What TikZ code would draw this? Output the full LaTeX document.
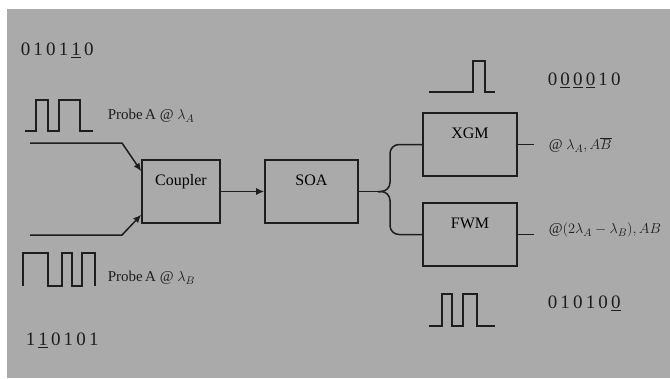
\documentclass[tikz,border=0pt]{standalone}
\usepackage{fontspec}
\setmainfont{Liberation Serif}
\usetikzlibrary{arrows.meta,positioning}
\definecolor{bggray}{RGB}{170,170,170}
\definecolor{inkgray}{RGB}{30,30,30}

\begin{document}
\begin{tikzpicture}[x=1pt,y=-1pt,>={Latex[length=8pt,width=7pt]},line width=1.5pt,draw=inkgray,
  blk/.style={draw=inkgray,line width=1.6pt,inner sep=0pt,minimum height=63pt,text height=25.75pt,text depth=37.25pt,font=\fontsize{16}{16}\selectfont},
  lbl/.style={anchor=west,inner sep=0pt,text=inkgray,font=\fontsize{15}{15}\selectfont},
  bits/.style={anchor=west,inner sep=0pt,text=inkgray,font=\fontsize{19}{19}\selectfont},
  pulse/.style={draw=inkgray,line width=1.6pt}]
\fill[white] (0,0) rectangle (670,378);
\fill[bggray] (7,9) rectangle (670,378);
\path[use as bounding box] (0,0) rectangle (670,378);
% blocks
\node[blk,minimum width=78pt] (coupler) at (181,191.5) {Coupler};
\node[blk,minimum width=93pt] (soa) at (311.5,191.5) {SOA};
\node[blk,minimum width=94pt] (xgm) at (470,144.5) {XGM};
\node[blk,minimum width=94pt] (fwm) at (470,234.5) {FWM};
% input signals
\draw[pulse] (25,131) -- (36,131) -- (36,100) -- (48,100) -- (48,131) -- (59,131) -- (59,100) -- (80,100) -- (80,131) -- (93,131);
\draw[pulse] (23,286) -- (23,253) -- (48,253) -- (48,286) -- (62,286) -- (62,253) -- (72,253) -- (72,286) -- (82,286) -- (82,253) -- (95,253) -- (95,286);
\node[bits] (bitsa) at (20,50) {0\,1\,0\,1\,\underline{1}\,0};
\node[lbl] (proba) at (107,116) {Probe\,A @ $\lambda_A$};
\node[lbl] (probb) at (107,278) {Probe\,A @ $\lambda_B$};
\node[bits] (bitsb) at (25,340) {1\,\underline{1}\,0\,1\,0\,1};
% output signals
\draw[pulse] (429,92) -- (473,92) -- (473,61) -- (485,61) -- (485,92) -- (495,92);
\draw[pulse] (429,326) -- (442,326) -- (442,294) -- (452,294) -- (452,326) -- (463,326) -- (463,294) -- (477,294) -- (477,326) -- (495,326);
\node[bits] (bitsc) at (547,80) {0\,\underline{0}\,\underline{0}\,\underline{0}\,1\,0};
\node[lbl] (outa) at (548,145) {@ $\lambda_A, A\overline{B}$};
\node[lbl] (outb) at (548,230) {@$(2\lambda_A-\lambda_B), AB$};
\node[bits] (bitsd) at (547,303) {0\,1\,0\,1\,0\,\underline{0}};
% connectors
\coordinate (ina) at (30,143);
\coordinate (inab) at (122,143);
\coordinate (inb) at (30,235);
\coordinate (inbb) at (122,235);
\draw[->] (ina) -- (inab) -- ([yshift=-12pt]coupler.north west);
\draw[->] (inb) -- (inbb) -- ([yshift=9pt]coupler.south west);
\draw[->] (coupler) -- (soa);
\coordinate (split) at (378,191.5);
\draw (soa) -- (split);
\draw[rounded corners=9pt] (split) -- (390,191.5) |- (xgm.west);
\draw[rounded corners=9pt] (split) -- (390,191.5) |- (fwm.west);
\coordinate (xgmout) at ([xshift=16pt]xgm.east);
\coordinate (fwmout) at ([xshift=16pt]fwm.east);
\draw (xgm) -- (xgmout);
\draw (fwm) -- (fwmout);
\end{tikzpicture}
\end{document}
